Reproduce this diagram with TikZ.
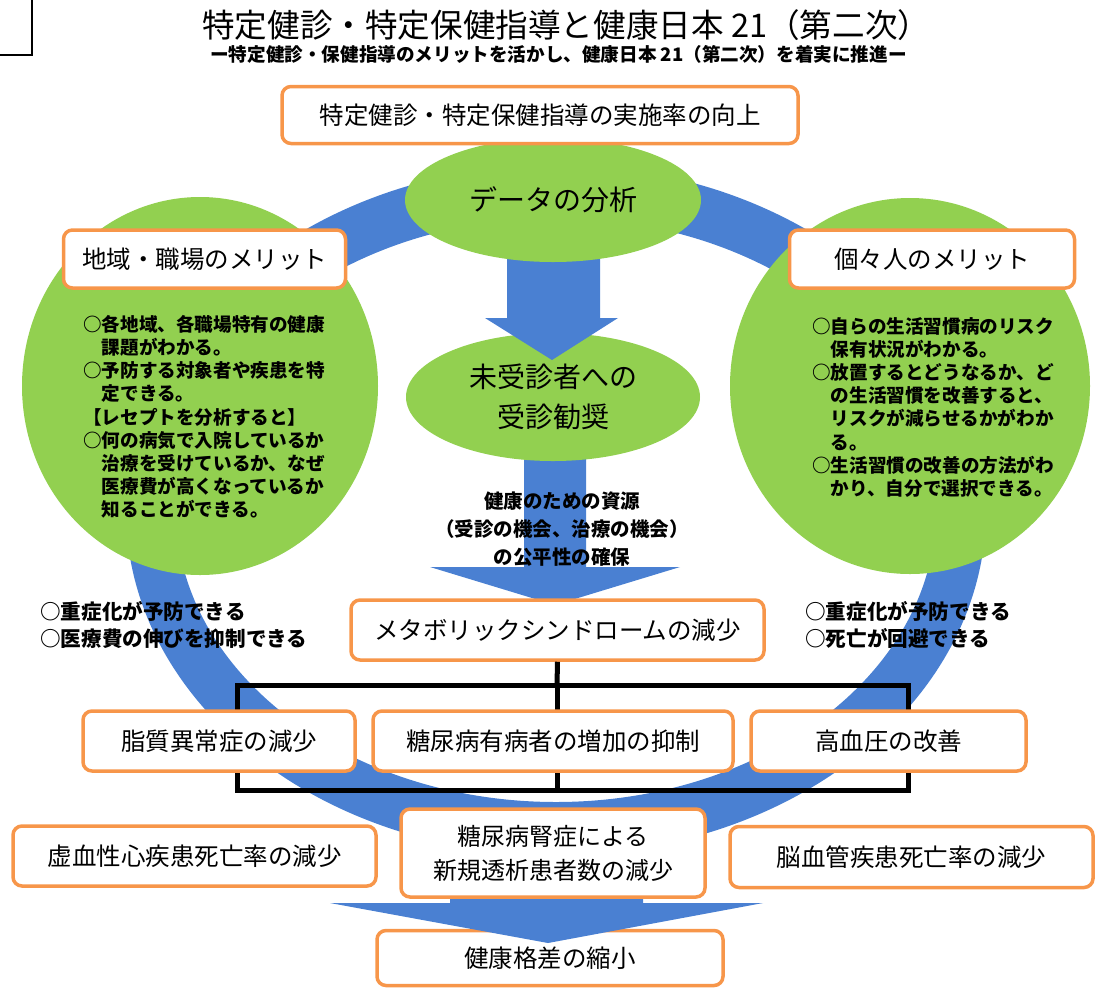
\documentclass[tikz,border=0pt]{standalone}
\usepackage{fontspec}
\newfontfamily\jp{Noto Sans CJK JP}
\usetikzlibrary{shapes.geometric}
\definecolor{ringblue}{HTML}{4A80D2}
\definecolor{leaf}{HTML}{92D050}
\definecolor{orangeb}{HTML}{F7964A}
\tikzset{
  box/.style={draw=orangeb, line width=3.5pt, rounded corners=9pt, fill=white, inner sep=0pt,
    font=\jp\fontsize{24.5}{30}\selectfont, align=center},
  blob/.style={ellipse, fill=leaf, inner sep=0pt, align=center, font=\jp\fontsize{28}{40}\selectfont},
  tree/.style={line width=5pt, black},
  blockarrow/.style={fill=ringblue},
  bodytext/.style={font=\jp\bfseries\fontsize{18.6}{23.2}\selectfont, align=left, inner sep=0pt, anchor=north west},
  sidetext/.style={font=\jp\bfseries\fontsize{20.6}{27}\selectfont, align=left, inner sep=0pt, anchor=west},
}
\begin{document}
\begin{tikzpicture}[x=1pt,y=-1pt]
\useasboundingbox (0,0) rectangle (1108,989);
% corner mark
\draw[line width=2pt] (0,55) -- (32,55) -- (32,0);
% titles
\node[font=\jp\fontsize{32.6}{33}\selectfont, inner sep=0pt, anchor=west] (title) at (202,25) {特定健診・特定保健指導と健康日本 21（第二次）};
\node[font=\jp\bfseries\fontsize{18.6}{19}\selectfont, inner sep=0pt, anchor=west] (subtitle) at (210,54) {ー特定健診・保健指導のメリットを活かし、健康日本 21（第二次）を着実に推進ー};
% ring
\fill[ringblue, even odd rule] (556,510) ellipse [x radius=430, y radius=345] (556,510) ellipse [x radius=380, y radius=292];
% arrow 2
\fill[blockarrow] (524,440) -- (586,440) -- (586,567) -- (680,567) -- (555,605) -- (430,567) -- (524,567) -- cycle;
\node[blob, minimum width=294pt, minimum height=128pt] (visit) at (553,397) {未受診者への\\受診勧奨};
% arrow 1
\fill[blockarrow] (507,250) -- (600,250) -- (600,318) -- (618,318) -- (552,360) -- (485,318) -- (507,318) -- cycle;
\node[blob, minimum width=296pt, minimum height=124pt] (data) at (553,200) {データの分析};
% side circles
\node[blob, minimum width=356pt, minimum height=378pt] (lcirc) at (200,386) {};
\node[blob, minimum width=360pt, minimum height=376pt] (rcirc) at (910,386) {};
% top box
\node[box, minimum width=516pt, minimum height=57pt] (rate) at (540,115) {特定健診・特定保健指導の実施率の向上};
% headers
\node[box, minimum width=282pt, minimum height=58pt] (lhead) at (204.5,259) {地域・職場のメリット};
\node[box, minimum width=285pt, minimum height=58pt] (rhead) at (932,259) {個々人のメリット};
% body texts
\node[bodytext] (ltxt) at (83,315) {○各地域、各職場特有の健康\\　課題がわかる。\\○予防する対象者や疾患を特\\　定できる。\\【レセプトを分析すると】\\○何の病気で入院しているか\\　治療を受けているか、なぜ\\　医療費が高くなっているか\\　知ることができる。};
\node[bodytext] (rtxt) at (812,317) {○自らの生活習慣病のリスク\\　保有状況がわかる。\\○放置するとどうなるか、ど\\　の生活習慣を改善すると、\\　リスクが減らせるかがわか\\　る。\\○生活習慣の改善の方法がわ\\　かり、自分で選択できる。};
% arrow text
\node[font=\jp\bfseries\fontsize{19.5}{28}\selectfont, align=center, inner sep=0pt] (resource) at (562,529) {健康のための資源\\（受診の機会、治療の機会）\\の公平性の確保};
% side texts
\node[sidetext] (lside) at (40,625) {○重症化が予防できる\\○医療費の伸びを抑制できる};
\node[sidetext] (rside) at (805,625) {○重症化が予防できる\\○死亡が回避できる};
% tree lines
\coordinate (jt) at (557,685);
\coordinate (tl) at (237,685);
\coordinate (tr) at (908,685);
\coordinate (bl) at (237,790);
\coordinate (br) at (908,790);
\coordinate (bm) at (557,790);
\node[box, minimum width=413pt, minimum height=60pt] (metabo) at (557.5,630) {メタボリックシンドロームの減少};
\draw[tree] (metabo.south) -- (jt);
\draw[tree] (tl) -- (tr) -- (br) -- (bl) -- cycle;
\draw[tree] (jt) -- (bm);
% row 2
\node[box, minimum width=272pt, minimum height=60pt] (lipid) at (219,741) {脂質異常症の減少};
\node[box, minimum width=360pt, minimum height=60pt] (diab) at (553,741) {糖尿病有病者の増加の抑制};
\node[box, minimum width=275pt, minimum height=60pt] (bp) at (888.5,741) {高血圧の改善};
% bottom
\node[box, minimum width=346pt, minimum height=55pt] (gap) at (550,958) {健康格差の縮小};
\fill[blockarrow] (450,880) -- (643,880) -- (643,903) -- (763,903) -- (548,943) -- (330,903) -- (450,903) -- cycle;
\node[box, minimum width=363pt, minimum height=60pt] (heart) at (194.5,856) {虚血性心疾患死亡率の減少};
\node[box, minimum width=304pt, minimum height=88pt, font=\jp\fontsize{24}{34}\selectfont] (renal) at (553,853) {糖尿病腎症による\\新規透析患者数の減少};
\node[box, minimum width=363pt, minimum height=61pt] (stroke) at (911.5,857) {脳血管疾患死亡率の減少};
\end{tikzpicture}
\end{document}
